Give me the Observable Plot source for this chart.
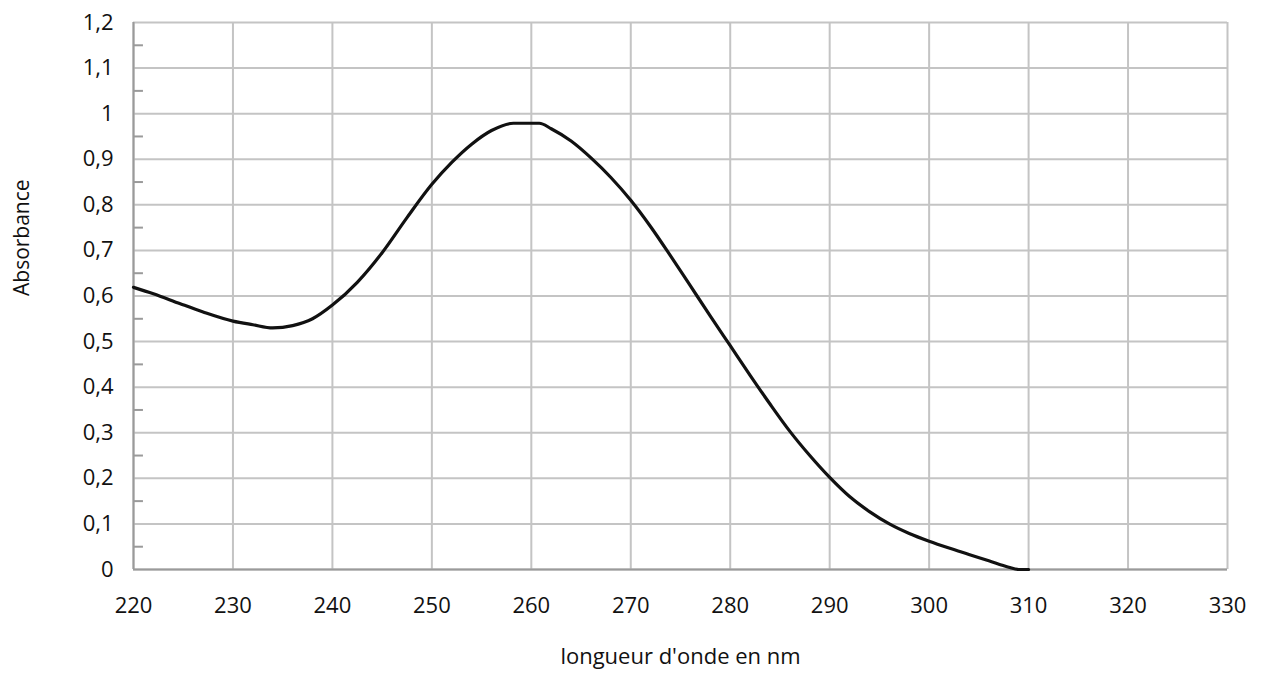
<!DOCTYPE html>
<html>
<head>
<meta charset="utf-8">
<script src="https://cdn.jsdelivr.net/npm/d3@7"></script>
<script src="https://cdn.jsdelivr.net/npm/@observablehq/plot@0.6"></script>
<style>
  html, body { margin: 0; padding: 0; background: #fff; }
  #chart svg { display: block; }
</style>
</head>
<body>
<div id="chart"></div>
<script>
const wavelength = [220, 222, 224.7, 227, 230, 232, 234, 236, 238, 240, 242.5, 245, 247.5, 250, 252, 254, 256, 258.2, 260.8, 262, 264, 266, 268, 270, 272, 274, 276, 278, 280, 282, 284, 286, 288, 290, 292, 294, 296, 298, 300, 302, 304, 306, 308, 309, 310];
const absorbance = [0.619, 0.605, 0.583, 0.565, 0.545, 0.537, 0.530, 0.535, 0.550, 0.580, 0.630, 0.695, 0.772, 0.845, 0.893, 0.933, 0.963, 0.979, 0.979, 0.967, 0.940, 0.903, 0.860, 0.810, 0.752, 0.688, 0.622, 0.556, 0.491, 0.426, 0.363, 0.303, 0.250, 0.202, 0.160, 0.127, 0.100, 0.079, 0.062, 0.047, 0.033, 0.019, 0.005, 0.0, 0.0];
const xTicks = [220, 230, 240, 250, 260, 270, 280, 290, 300, 310, 320, 330];
const yTicks = [0, 0.1, 0.2, 0.3, 0.4, 0.5, 0.6, 0.7, 0.8, 0.9, 1, 1.1, 1.2];
const yMinorTicks = [0.05, 0.15, 0.25, 0.35, 0.45, 0.55, 0.65, 0.75, 0.85, 0.95, 1.05, 1.15];
const xLabel = "longueur d'onde en nm";
const yLabel = "Absorbance";

const data = wavelength.map((w, i) => ({w, a: absorbance[i]}));
const fmt = d => String(d).replace(".", ",");

const chart = Plot.plot({
  width: 1261,
  height: 684,
  marginLeft: 133,
  marginRight: 34,
  marginTop: 22,
  marginBottom: 115,
  style: {fontFamily: "'Open Sans', sans-serif", fontSize: "22px", color: "#000", background: "#fff"},
  x: {domain: [220, 330]},
  y: {domain: [0, 1.2]},
  marks: [
    Plot.gridX(xTicks, {stroke: "#c4c4c4", strokeOpacity: 1, strokeWidth: 2}),
    Plot.gridY(yTicks, {stroke: "#c4c4c4", strokeOpacity: 1, strokeWidth: 2}),
    Plot.ruleY(yMinorTicks, {y: d => d, x1: 220, x2: 221, stroke: "#9a9a9a", strokeWidth: 2}),
    Plot.ruleX([220], {stroke: "#9a9a9a", strokeWidth: 2}),
    Plot.ruleY([0], {stroke: "#9a9a9a", strokeWidth: 2}),
    Plot.axisX(xTicks, {tickSize: 0, tickPadding: 28, tickFormat: d => String(d), label: null, fill: "#111", fontSize: 22}),
    Plot.axisY(yTicks, {tickSize: 0, tickPadding: 20, tickFormat: fmt, label: null, fill: "#111", fontSize: 22}),
    Plot.text([xLabel], {frameAnchor: "bottom", dy: 94, text: d => d, fontSize: 22, fill: "#111"}),
    Plot.text([yLabel], {frameAnchor: "left", dx: -111, rotate: -90, text: d => d, fontSize: 21, fill: "#111"}),
    Plot.line(data, {x: "w", y: "a", stroke: "#111", strokeWidth: 3.2, curve: "monotone-x"})
  ]
});
document.getElementById("chart").appendChild(chart);
</script>
</body>
</html>
